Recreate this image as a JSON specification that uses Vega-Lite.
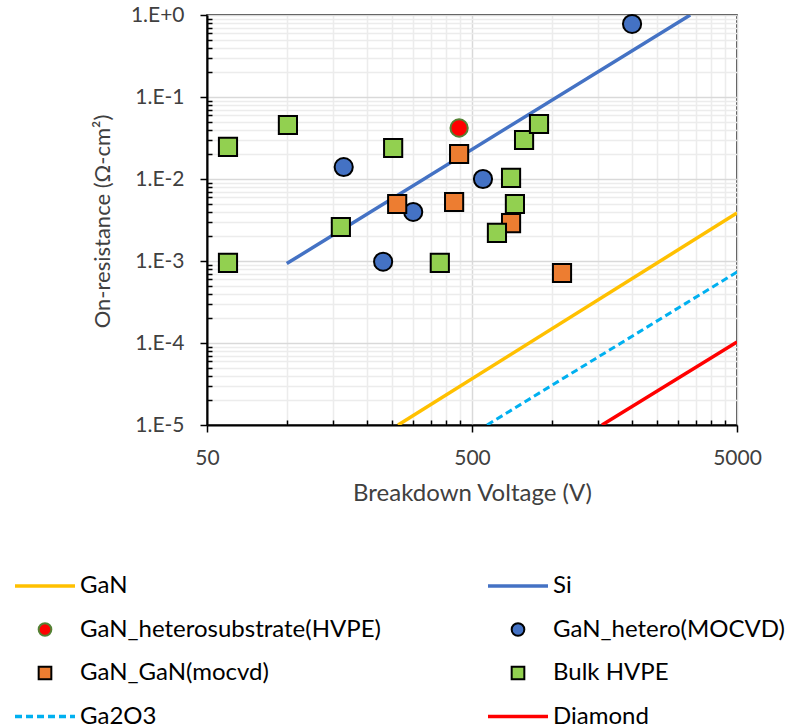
{
  "$schema": "https://vega.github.io/schema/vega-lite/v6.json",
  "width": 530,
  "height": 410,
  "autosize": {"type": "none"},
  "padding": {"left": 207, "top": 15, "right": 52, "bottom": 302},
  "background": "white",
  "config": {
    "font": "Lato",
    "view": {"stroke": "black", "strokeWidth": 1.5},
    "axis": {
      "domainColor": "black",
      "domainWidth": 2,
      "tickColor": "black",
      "tickWidth": 1.5,
      "labelFont": "Lato",
      "labelFontSize": 21,
      "labelColor": "#404040",
      "labelFlush": false,
      "titleFont": "Lato",
      "titleFontWeight": "normal",
      "titleColor": "#404040",
      "grid": true
    },
    "legend": {"labelFont": "Lato", "labelFontSize": 24, "labelColor": "black"}
  },
  "datasets": {
    "lines": [
      {"series": "GaN", "x": 263, "y": 0.00001},
      {"series": "GaN", "x": 5000, "y": 0.00385},
      {"series": "Si", "x": 100, "y": 0.00093},
      {"series": "Si", "x": 3330, "y": 1},
      {"series": "Diamond", "x": 1547, "y": 0.00001},
      {"series": "Diamond", "x": 5000, "y": 0.000103}
    ],
    "dashed": [
      {"series": "Ga2O3", "x": 570, "y": 0.00001},
      {"series": "Ga2O3", "x": 5000, "y": 0.000734}
    ],
    "hetero": [
      {"series": "GaN_hetero(MOCVD)", "x": 164, "y": 0.014},
      {"series": "GaN_hetero(MOCVD)", "x": 231, "y": 0.00098},
      {"series": "GaN_hetero(MOCVD)", "x": 300, "y": 0.00396},
      {"series": "GaN_hetero(MOCVD)", "x": 550, "y": 0.01},
      {"series": "GaN_hetero(MOCVD)", "x": 2009, "y": 0.777}
    ],
    "heterosub": [
      {"series": "GaN_heterosubstrate(HVPE)", "x": 447, "y": 0.0419}
    ],
    "squares": [
      {"series": "GaN_GaN(mocvd)", "x": 447, "y": 0.0202},
      {"series": "GaN_GaN(mocvd)", "x": 261, "y": 0.00496},
      {"series": "GaN_GaN(mocvd)", "x": 428, "y": 0.00524},
      {"series": "GaN_GaN(mocvd)", "x": 702, "y": 0.0029},
      {"series": "GaN_GaN(mocvd)", "x": 1093, "y": 0.000714},
      {"series": "Bulk HVPE", "x": 60, "y": 0.0246},
      {"series": "Bulk HVPE", "x": 101, "y": 0.0456},
      {"series": "Bulk HVPE", "x": 252, "y": 0.0239},
      {"series": "Bulk HVPE", "x": 160, "y": 0.0026},
      {"series": "Bulk HVPE", "x": 60, "y": 0.00095},
      {"series": "Bulk HVPE", "x": 378, "y": 0.00095},
      {"series": "Bulk HVPE", "x": 621, "y": 0.0022},
      {"series": "Bulk HVPE", "x": 702, "y": 0.0103},
      {"series": "Bulk HVPE", "x": 726, "y": 0.00496},
      {"series": "Bulk HVPE", "x": 786, "y": 0.0299},
      {"series": "Bulk HVPE", "x": 895, "y": 0.0469}
    ]
  },
  "encoding": {
    "x": {
      "field": "x",
      "type": "quantitative",
      "scale": {"type": "log", "domain": [50, 5000], "nice": false},
      "axis": {
        "title": "Breakdown Voltage (V)",
        "titleFontSize": 24,
        "titleBaseline": "alphabetic",
        "titleY": 75,
        "values": [50, 100, 150, 200, 250, 300, 350, 400, 450, 500, 1000, 1500, 2000, 2500, 3000, 3500, 4000, 4500, 5000],
        "labelExpr": "indexof([50, 500, 5000], datum.value) >= 0 ? '' + datum.value : ''",
        "labelPadding": 15,
        "tickSize": {"condition": {"test": "indexof([50, 500, 5000], datum.value) >= 0", "value": 7}, "value": -5},
        "gridColor": {"condition": {"test": "indexof([50, 500, 5000], datum.value) >= 0", "value": "#d9d9d9"}, "value": "#ececec"},
        "gridWidth": 1.5
      }
    },
    "y": {
      "field": "y",
      "type": "quantitative",
      "scale": {"type": "log", "domain": [0.00001, 1], "nice": false},
      "axis": {
        "title": "On-resistance (Ω-cm²)",
        "titleFontSize": 22,
        "titleBaseline": "alphabetic",
        "titleX": -98,
        "titleY": 206,
        "values": [0.00001, 0.00002, 0.00003, 0.00004, 0.00005, 0.00006, 0.00007, 0.00008, 0.00009, 0.0001, 0.0002, 0.0003, 0.0004, 0.0005, 0.0006, 0.0007, 0.0008, 0.0009, 0.001, 0.002, 0.003, 0.004, 0.005, 0.006, 0.007, 0.008, 0.009, 0.01, 0.02, 0.03, 0.04, 0.05, 0.06, 0.07, 0.08, 0.09, 0.1, 0.2, 0.3, 0.4, 0.5, 0.6, 0.7, 0.8, 0.9, 1],
        "labelExpr": "abs(log(datum.value)/LN10 - round(log(datum.value)/LN10)) < 0.000001 ? (round(log(datum.value)/LN10) == 0 ? '1.E+0' : '1.E' + round(log(datum.value)/LN10)) : ''",
        "labelPadding": 16,
        "tickSize": {"condition": {"test": "abs(log(datum.value)/LN10 - round(log(datum.value)/LN10)) < 0.000001", "value": 7}, "value": -5},
        "gridColor": {"condition": {"test": "abs(log(datum.value)/LN10 - round(log(datum.value)/LN10)) < 0.000001", "value": "#d9d9d9"}, "value": "#ececec"},
        "gridWidth": 1.5
      }
    }
  },
  "layer": [
    {
      "data": {"name": "lines"},
      "mark": {"type": "line", "strokeWidth": 3.5, "clip": true},
      "encoding": {
        "stroke": {
          "field": "series",
          "type": "nominal",
          "scale": {
            "domain": ["GaN", "Si", "GaN_heterosubstrate(HVPE)", "GaN_hetero(MOCVD)", "GaN_GaN(mocvd)", "Bulk HVPE", "Ga2O3", "Diamond"],
            "range": ["#FFC000", "#4472C4", "#548235", "black", "black", "black", "#00B0F0", "#FF0000"]
          },
          "legend": {
            "title": null,
            "orient": "none",
            "direction": "horizontal",
            "legendX": -174,
            "legendY": 559,
            "columns": 2,
            "columnPadding": 100,
            "rowPadding": 19.5,
            "padding": 0,
            "symbolSize": 130,
            "labelOffset": 23,
            "labelLimit": 500,
            "encode": {
              "symbols": {
                "update": {
                  "shape": {"signal": "indexof(['GaN','Si','Ga2O3','Diamond'], datum.value) >= 0 ? 'stroke' : (indexof(['GaN_GaN(mocvd)','Bulk HVPE'], datum.value) >= 0 ? 'square' : 'circle')"},
                  "size": {"signal": "indexof(['GaN','Si','Ga2O3','Diamond'], datum.value) >= 0 ? 3600 : 160"},
                  "fill": {"signal": "indexof(['GaN','Si','Ga2O3','Diamond'], datum.value) >= 0 ? 'transparent' : scale('color', datum.value)"},
                  "fillOpacity": {"value": 1},
                  "strokeOpacity": {"value": 1},
                  "strokeWidth": {"signal": "indexof(['GaN','Si','Ga2O3','Diamond'], datum.value) >= 0 ? 3.5 : 2"},
                  "strokeDash": {"signal": "datum.value == 'Ga2O3' ? [7, 4] : []"},
                  "opacity": {"value": 1}
                }
              }
            }
          }
        }
      }
    },
    {
      "data": {"name": "dashed"},
      "mark": {"type": "line", "strokeWidth": 3, "strokeDash": [7, 4], "clip": true},
      "encoding": {"stroke": {"field": "series", "type": "nominal"}}
    },
    {
      "data": {"name": "hetero"},
      "mark": {"type": "point", "shape": "circle", "filled": true, "opacity": 1, "size": 330, "stroke": "black", "strokeWidth": 2},
      "encoding": {
        "color": {
          "field": "series",
          "type": "nominal",
          "scale": {
            "domain": ["GaN_heterosubstrate(HVPE)", "GaN_hetero(MOCVD)", "GaN_GaN(mocvd)", "Bulk HVPE"],
            "range": ["#FF0000", "#4472C4", "#ED7D31", "#92D050"]
          },
          "legend": null
        }
      }
    },
    {
      "data": {"name": "heterosub"},
      "mark": {"type": "point", "shape": "circle", "filled": true, "opacity": 1, "size": 300, "stroke": "#548235", "strokeWidth": 2},
      "encoding": {"color": {"field": "series", "type": "nominal", "legend": null}}
    },
    {
      "data": {"name": "squares"},
      "mark": {"type": "point", "shape": "square", "filled": true, "opacity": 1, "size": 330, "stroke": "black", "strokeWidth": 2},
      "encoding": {"color": {"field": "series", "type": "nominal", "legend": null}}
    }
  ]
}
